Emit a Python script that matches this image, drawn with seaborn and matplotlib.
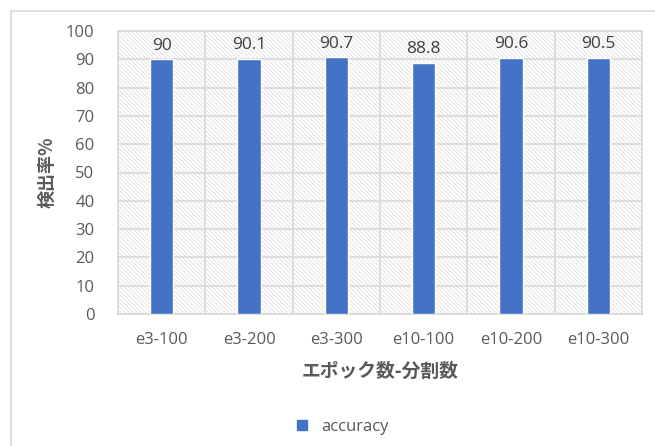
import matplotlib
matplotlib.use("Agg")
import matplotlib.pyplot as plt
from matplotlib.patches import Rectangle
from matplotlib.lines import Line2D
import seaborn as sns
import pandas as pd

# Detection rate per (epochs-splits) setting
categories = ["e3-100", "e3-200", "e3-300", "e10-100", "e10-200", "e10-300"]
accuracy = [90, 90.1, 90.7, 88.8, 90.6, 90.5]
y_ticks = [0, 10, 20, 30, 40, 50, 60, 70, 80, 90, 100]

df = pd.DataFrame({"setting": categories, "accuracy": accuracy})

sns.set_theme(style="white")
plt.rcParams["font.family"] = ["Noto Sans CJK JP", "DejaVu Sans"]
plt.rcParams["hatch.linewidth"] = 0.5
plt.rcParams["hatch.color"] = "#DADADA"

BAR = "#4472C4"
TEXT = "#595959"
GRID = "#D9D9D9"
LATIN = ["Open Sans", "DejaVu Sans"]

fig = plt.figure(figsize=(6.55, 4.46), dpi=100)
W, H = 655, 446
ax = fig.add_axes([118 / W, 1 - 314 / H, (642 - 118) / W, (314 - 31) / H])

# outer chart frame
fig.patches.append(Rectangle((10.5 / W, -0.1), 1.2, 1 - 10.5 / H + 0.1,
                             transform=fig.transFigure, fill=False,
                             edgecolor="#D9D9D9", linewidth=1.2, zorder=0))

# hatched plot-area background
ax.set_facecolor("white")
ax.add_patch(Rectangle((0, 0), 1, 1, transform=ax.transAxes, facecolor="white",
                       edgecolor="#DADADA", hatch="\\" * 8, linewidth=0, zorder=0))

sns.barplot(data=df, x="setting", y="accuracy", color=BAR, width=0.27,
            saturation=1, ax=ax, zorder=3)

ax.set_ylim(0, 100)
ax.set_xlim(-0.5, len(categories) - 0.5)
ax.set_yticks(y_ticks)
ax.set_yticklabels([str(t) for t in y_ticks], fontfamily=LATIN)
ax.set_xticks(range(len(categories)))
ax.set_xticklabels(categories, fontfamily=LATIN)

# grid: horizontal at ticks, vertical at category boundaries
for t in y_ticks:
    ax.axhline(t, color=GRID, linewidth=1.2, zorder=1)
for i in range(len(categories) + 1):
    ax.axvline(i - 0.5, color=GRID, linewidth=1.2, zorder=1)

for s in ax.spines.values():
    s.set_color(GRID)
    s.set_linewidth(1.2)

ax.tick_params(axis="both", length=0, colors=TEXT, labelsize=12)
ax.tick_params(axis="y", pad=17)
ax.tick_params(axis="x", pad=13)

ax.bar_label(ax.containers[0], labels=[f"{v:g}" for v in accuracy],
             padding=4, color="#404040", fontsize=12.5, fontfamily=LATIN)

ax.set_xlabel("エポック数-分割数", fontsize=13.5, fontweight="bold", color=TEXT, labelpad=10)
ax.set_ylabel("検出率%", fontsize=13, fontweight="bold", color=TEXT, labelpad=7)

handle = Line2D([], [], marker="s", linestyle="none", markersize=7,
                markerfacecolor=BAR, markeredgecolor=BAR)
fig.legend([handle], ["accuracy"], loc="center", bbox_to_anchor=(337 / W, 1 - 427 / H),
           frameon=False, labelcolor=TEXT, handletextpad=0.1,
           prop={"family": LATIN, "size": 12})

fig.savefig("out.png", dpi=100)
